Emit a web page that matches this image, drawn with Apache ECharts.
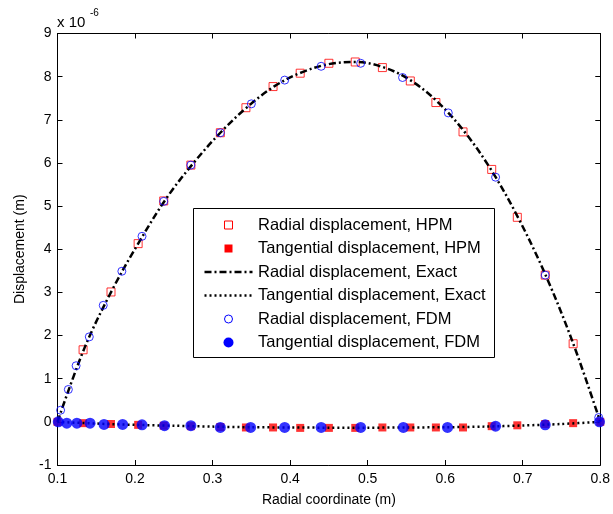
<!DOCTYPE html>
<html>
<head>
<meta charset="utf-8">
<script src="https://cdn.jsdelivr.net/npm/echarts@6/dist/echarts.min.js"></script>
<style>
  html, body { margin: 0; padding: 0; background: #fff; }
  #chart { width: 613px; height: 514px; }
</style>
</head>
<body>
<div id="chart"></div>
<script>
// ---- Data (displacements in units of 1e-6 m) ----
const xTicks = [0.1, 0.2, 0.3, 0.4, 0.5, 0.6, 0.7, 0.8];
const yTicks = [-1, 0, 1, 2, 3, 4, 5, 6, 7, 8, 9];

const hpmRadialX = [0.133, 0.169, 0.204, 0.237, 0.272, 0.31, 0.343, 0.378, 0.413, 0.45, 0.484, 0.519, 0.555, 0.588, 0.623, 0.66, 0.693, 0.729, 0.765];
const hpmRadialY = [1.67, 3.01, 4.13, 5.12, 5.95, 6.70, 7.28, 7.77, 8.08, 8.31, 8.34, 8.21, 7.90, 7.40, 6.72, 5.85, 4.74, 3.40, 1.81];

const hpmTangX = [0.1, 0.133, 0.169, 0.204, 0.237, 0.272, 0.31, 0.343, 0.378, 0.413, 0.45, 0.484, 0.519, 0.555, 0.588, 0.623, 0.66, 0.693, 0.729, 0.765, 0.8];
const hpmTangY = [0, -0.03, -0.05, -0.07, -0.09, -0.10, -0.12, -0.13, -0.13, -0.14, -0.14, -0.14, -0.13, -0.13, -0.13, -0.13, -0.10, -0.08, -0.05, -0.03, 0];

const exactRadialX = [0.1, 0.135, 0.17, 0.205, 0.24, 0.275, 0.31, 0.345, 0.38, 0.415, 0.45, 0.485, 0.52, 0.555, 0.59, 0.625, 0.66, 0.695, 0.73, 0.765, 0.8];
const exactRadialY = [0, 1.72, 3.04, 4.16, 5.17, 5.99, 6.70, 7.30, 7.78, 8.10, 8.29, 8.34, 8.22, 7.92, 7.42, 6.72, 5.82, 4.70, 3.38, 1.82, 0];

const exactTangX = [0.1, 0.15, 0.2, 0.25, 0.3, 0.35, 0.4, 0.45, 0.5, 0.55, 0.6, 0.65, 0.7, 0.75, 0.8];
const exactTangY = [0, -0.04, -0.07, -0.09, -0.11, -0.125, -0.13, -0.135, -0.135, -0.13, -0.125, -0.11, -0.085, -0.05, 0];

const fdmRadialX = [0.104, 0.114, 0.124, 0.141, 0.159, 0.183, 0.209, 0.237, 0.272, 0.31, 0.35, 0.393, 0.44, 0.491, 0.545, 0.604, 0.665, 0.729, 0.798];
const fdmRadialY = [0.27, 0.75, 1.30, 1.97, 2.70, 3.49, 4.30, 5.11, 5.95, 6.70, 7.37, 7.92, 8.24, 8.31, 7.98, 7.16, 5.67, 3.40, 0.10];

const fdmTangX = [0.101, 0.112, 0.125, 0.142, 0.160, 0.184, 0.209, 0.238, 0.272, 0.31, 0.349, 0.393, 0.44, 0.491, 0.546, 0.603, 0.665, 0.729, 0.799];
const fdmTangY = [0, -0.03, -0.03, -0.03, -0.06, -0.06, -0.07, -0.09, -0.09, -0.13, -0.13, -0.13, -0.13, -0.13, -0.13, -0.13, -0.10, -0.07, 0];

const names = [
  'Radial displacement, HPM',
  'Tangential displacement, HPM',
  'Radial displacement, Exact',
  'Tangential displacement, Exact',
  'Radial displacement, FDM',
  'Tangential displacement, FDM'
];

function pairs(xs, ys) { return xs.map((x, i) => [x, ys[i]]); }

const FONT = 'Liberation Sans, Arial, sans-serif';
const RED = '#ff0000', BLUE = '#0000ff';
const DASHDOT = [7, 3, 2, 3], DOTTED = [2, 3];

const chart = echarts.init(document.getElementById('chart'), null, { renderer: 'canvas' });

const tickCommon = { show: true, inside: true, length: 5, lineStyle: { color: '#000', width: 1 } };
const lineCommon = { show: true, onZero: false, lineStyle: { color: '#000', width: 1 } };

// ---- Legend box (drawn as graphic so icons match the MATLAB-style legend) ----
const LW = 301, LH = 149, ROW0 = 16.5, ROWH = 23.5, ICX = 35, TX = 64.5;
const legendChildren = [
  { type: 'rect', shape: { x: 0, y: 0, width: LW, height: LH }, style: { fill: '#fff', stroke: '#000', lineWidth: 1 } }
];
names.forEach((nm, i) => {
  const cy = ROW0 + ROWH * i;
  let icon;
  if (i === 0) icon = { type: 'rect', shape: { x: ICX - 4, y: cy - 4, width: 8, height: 8 }, style: { fill: 'none', stroke: RED, lineWidth: 1 } };
  else if (i === 1) icon = { type: 'rect', shape: { x: ICX - 4, y: cy - 4, width: 8, height: 8 }, style: { fill: RED } };
  else if (i === 2) icon = { type: 'line', shape: { x1: 11, y1: cy, x2: 59, y2: cy }, style: { stroke: '#000', lineWidth: 2.5, lineDash: DASHDOT } };
  else if (i === 3) icon = { type: 'line', shape: { x1: 11, y1: cy, x2: 59, y2: cy }, style: { stroke: '#000', lineWidth: 2.5, lineDash: DOTTED } };
  else if (i === 4) icon = { type: 'circle', shape: { cx: ICX, cy: cy, r: 4 }, style: { fill: 'none', stroke: BLUE, lineWidth: 1 } };
  else icon = { type: 'circle', shape: { cx: ICX, cy: cy, r: 5 }, style: { fill: BLUE } };
  legendChildren.push(icon);
  legendChildren.push({ type: 'text', style: { text: nm, x: TX, y: cy, font: '16.5px ' + FONT, fill: '#000', verticalAlign: 'middle' } });
});

chart.setOption({
  animation: false,
  backgroundColor: '#fff',
  textStyle: { fontFamily: FONT },
  grid: { left: 57.5, right: 10.5, top: 33.5, bottom: 49, containLabel: false },
  xAxis: [{
    type: 'value', min: xTicks[0], max: xTicks[xTicks.length - 1], interval: 0.1,
    axisLine: lineCommon, axisTick: tickCommon, splitLine: { show: false },
    axisLabel: { color: '#000', fontSize: 14, margin: 7, fontFamily: FONT, formatter: v => v.toFixed(1) },
    name: 'Radial coordinate (m)', nameLocation: 'middle', nameGap: 28, nameMoveOverlap: false,
    nameTextStyle: { color: '#000', fontSize: 14, fontFamily: FONT }
  }, {
    type: 'value', position: 'top', min: xTicks[0], max: xTicks[xTicks.length - 1], interval: 0.1,
    axisLine: lineCommon, axisTick: tickCommon, axisLabel: { show: false }, splitLine: { show: false }
  }],
  yAxis: [{
    type: 'value', min: yTicks[0], max: yTicks[yTicks.length - 1], interval: 1,
    axisLine: lineCommon, axisTick: tickCommon, splitLine: { show: false },
    axisLabel: { color: '#000', fontSize: 14, margin: 6, fontFamily: FONT },
    name: 'Displacement (m)', nameLocation: 'middle', nameGap: 30,
    nameTextStyle: { color: '#000', fontSize: 14, fontFamily: FONT }
  }, {
    type: 'value', position: 'right', min: yTicks[0], max: yTicks[yTicks.length - 1], interval: 1,
    axisLine: lineCommon, axisTick: tickCommon, axisLabel: { show: false }, splitLine: { show: false }
  }],
  graphic: [
    { type: 'text', left: 57, top: 15, style: { text: 'x 10', font: '15px ' + FONT, fill: '#000' } },
    { type: 'text', left: 90, top: 8, style: { text: '-6', font: '10px ' + FONT, fill: '#000' } },
    { type: 'group', x: 193.5, y: 208.5, z: 100, children: legendChildren }
  ],
  series: [
    {
      name: names[0], type: 'scatter', data: pairs(hpmRadialX, hpmRadialY),
      symbol: 'rect', symbolSize: 8,
      itemStyle: { color: 'rgba(255,255,255,0)', borderColor: RED, borderWidth: 1 }, z: 2
    },
    {
      name: names[1], type: 'scatter', data: pairs(hpmTangX, hpmTangY),
      symbol: 'rect', symbolSize: 8,
      itemStyle: { color: RED, borderWidth: 0 }, z: 2
    },
    {
      name: names[2], type: 'line', data: pairs(exactRadialX, exactRadialY),
      symbol: 'none', smooth: 0.35,
      lineStyle: { color: '#000', width: 2.5, type: DASHDOT },
      itemStyle: { color: '#000' }, z: 3
    },
    {
      name: names[3], type: 'line', data: pairs(exactTangX, exactTangY),
      symbol: 'none', smooth: 0.3,
      lineStyle: { color: '#000', width: 2.5, type: DOTTED },
      itemStyle: { color: '#000' }, z: 3
    },
    {
      name: names[4], type: 'scatter', data: pairs(fdmRadialX, fdmRadialY),
      symbol: 'circle', symbolSize: 8,
      itemStyle: { color: 'rgba(255,255,255,0)', borderColor: BLUE, borderWidth: 1 }, z: 4
    },
    {
      name: names[5], type: 'scatter', data: pairs(fdmTangX, fdmTangY),
      symbol: 'circle', symbolSize: 11,
      itemStyle: { color: BLUE, borderWidth: 0 }, z: 4
    }
  ]
});
</script>
</body>
</html>
